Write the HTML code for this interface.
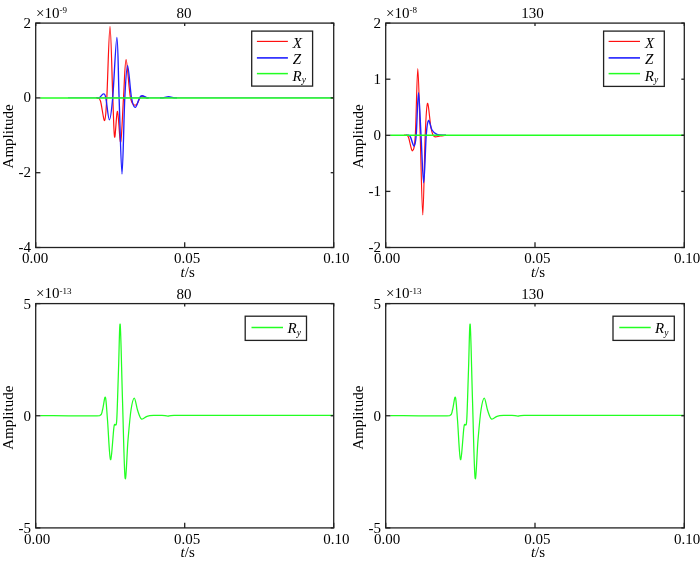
<!DOCTYPE html>
<html><head><meta charset="utf-8"><style>
html,body{margin:0;padding:0;background:#fff;width:700px;height:561px;overflow:hidden;}
svg{display:block;will-change:transform;}
</style></head><body>
<svg width="700" height="561" viewBox="0 0 700 561">
<rect width="700" height="561" fill="#fff"/>
<path d="M96.00,97.80 C96.25,97.80 96.75,97.27 97.50,97.80 C98.25,98.33 99.32,97.22 100.50,101.00 C101.68,104.78 103.55,121.03 104.60,120.50 C105.65,119.97 105.90,113.48 106.80,97.80 C107.70,82.12 109.00,26.40 110.00,26.40 C111.00,26.40 112.03,79.37 112.80,97.80 C113.57,116.23 113.82,134.72 114.60,137.00 C115.38,139.28 116.48,110.67 117.50,111.50 C118.52,112.33 119.70,144.28 120.70,142.00 C121.70,139.72 122.60,111.52 123.50,97.80 C124.40,84.08 124.93,59.70 126.10,59.70 C127.27,59.70 128.85,90.25 130.50,97.80 C132.15,105.35 134.25,105.23 136.00,105.00 C137.75,104.77 139.33,97.60 141.00,96.40 C142.67,95.20 144.83,97.57 146.00,97.80 C147.17,98.03 147.67,97.80 148.00,97.80" fill="none" stroke="#ff1010" stroke-width="1.20" stroke-linejoin="round"/>
<path d="M97.00,97.80 C97.38,97.80 98.22,98.45 99.30,97.80 C100.38,97.15 102.42,93.90 103.50,93.90 C104.58,93.90 104.82,93.47 105.80,97.80 C106.78,102.13 108.25,119.90 109.40,119.90 C110.55,119.90 111.45,111.55 112.70,97.80 C113.95,84.05 115.83,37.40 116.90,37.40 C117.97,37.40 118.25,75.03 119.10,97.80 C119.95,120.57 121.05,174.00 122.00,174.00 C122.95,174.00 123.87,115.85 124.80,97.80 C125.73,79.75 126.48,65.70 127.60,65.70 C128.72,65.70 130.22,90.85 131.50,97.80 C132.78,104.75 133.97,107.40 135.30,107.40 C136.63,107.40 138.37,99.75 139.50,97.80 C140.63,95.85 140.85,95.70 142.10,95.70 C143.35,95.70 145.85,97.45 147.00,97.80 C148.15,98.15 148.67,97.80 149.00,97.80" fill="none" stroke="#2020ff" stroke-width="1.35" stroke-linejoin="round"/>
<path d="M160.00,97.80 C160.50,97.80 161.57,98.00 163.00,97.80 C164.43,97.60 166.77,96.60 168.60,96.60 C170.43,96.60 172.60,97.60 174.00,97.80 C175.40,98.00 176.50,97.80 177.00,97.80" fill="none" stroke="#2020ff" stroke-width="1.35" stroke-linejoin="round"/>
<line x1="68" y1="97.70" x2="334" y2="97.70" stroke="#3050d0" stroke-width="1.0" stroke-opacity="0.7"/>
<path d="M40.30,98.00 C89.25,98.00 285.05,98.00 334.00,98.00" fill="none" stroke="#22ff22" stroke-width="1.30" stroke-linejoin="round"/>
<g stroke="#222222" stroke-width="1.30" fill="none"><line x1="35.70" y1="23.10" x2="40.40" y2="23.10"/><line x1="333.70" y1="23.10" x2="330.70" y2="23.10"/><line x1="35.70" y1="97.90" x2="40.40" y2="97.90"/><line x1="333.70" y1="97.90" x2="330.70" y2="97.90"/><line x1="35.70" y1="172.70" x2="40.40" y2="172.70"/><line x1="333.70" y1="172.70" x2="330.70" y2="172.70"/><line x1="35.70" y1="247.50" x2="40.40" y2="247.50"/><line x1="333.70" y1="247.50" x2="330.70" y2="247.50"/><line x1="35.70" y1="247.50" x2="35.70" y2="242.30"/><line x1="35.70" y1="23.10" x2="35.70" y2="25.90"/><line x1="184.70" y1="247.50" x2="184.70" y2="242.30"/><line x1="184.70" y1="23.10" x2="184.70" y2="25.90"/><line x1="333.70" y1="247.50" x2="333.70" y2="242.30"/><line x1="333.70" y1="23.10" x2="333.70" y2="25.90"/><rect x="35.70" y="23.10" width="298.00" height="224.40"/></g>
<g font-family='"Liberation Serif", serif' font-size="15" fill="#000"><text x="31.10" y="27.60" text-anchor="end">2</text><text x="31.10" y="102.40" text-anchor="end">0</text><text x="31.10" y="177.20" text-anchor="end">-2</text><text x="31.10" y="252.00" text-anchor="end">-4</text><text x="35.20" y="263.10" text-anchor="middle">0.00</text><text x="187.10" y="263.10" text-anchor="middle">0.05</text><text x="336.40" y="263.10" text-anchor="middle">0.10</text><text x="187.70" y="277.00" text-anchor="middle"><tspan font-style="italic">t</tspan>/s</text><text x="0" y="0" text-anchor="middle" transform="translate(13.40,136.30) rotate(-90)">Amplitude</text><text x="36.00" y="17.90">×10<tspan font-size="9" dy="-4.6">-9</tspan></text><text x="183.90" y="18.20" text-anchor="middle">80</text></g>
<rect x="251.70" y="31.10" width="60.90" height="55.00" fill="#fff" stroke="#222222" stroke-width="1.3"/><line x1="256.90" y1="41.40" x2="287.90" y2="41.40" stroke="#ff1010" stroke-width="1.15"/><text x="292.70" y="47.60" font-family='"Liberation Serif", serif' font-size="15" font-style="italic">X</text><line x1="256.90" y1="57.90" x2="287.90" y2="57.90" stroke="#2020ff" stroke-width="1.60"/><text x="292.70" y="64.10" font-family='"Liberation Serif", serif' font-size="15" font-style="italic">Z</text><line x1="256.90" y1="73.60" x2="287.90" y2="73.60" stroke="#22ff22" stroke-width="1.50"/><text x="292.50" y="80.60" font-family='"Liberation Serif", serif' font-size="15" font-style="italic">R<tspan font-size="9.5" dy="2.8">y</tspan></text>
<path d="M404.00,135.20 C404.43,135.20 405.83,134.82 406.60,135.20 C407.37,135.58 407.62,134.90 408.60,137.50 C409.58,140.10 411.38,151.18 412.50,150.80 C413.62,150.42 414.42,148.92 415.30,135.20 C416.18,121.48 416.98,68.50 417.80,68.50 C418.62,68.50 419.37,110.80 420.20,135.20 C421.03,159.60 421.97,214.90 422.80,214.90 C423.63,214.90 424.42,153.78 425.20,135.20 C425.98,116.62 426.53,104.60 427.50,103.40 C428.47,102.20 429.92,122.50 431.00,128.00 C432.08,133.50 432.50,135.07 434.00,136.40 C435.50,137.73 438.00,136.20 440.00,136.00 C442.00,135.80 445.00,135.33 446.00,135.20" fill="none" stroke="#ff1010" stroke-width="1.15" stroke-linejoin="round"/>
<path d="M406.00,135.20 C406.42,135.20 407.75,134.90 408.50,135.20 C409.25,135.50 409.57,135.20 410.50,137.00 C411.43,138.80 413.15,146.30 414.10,146.00 C415.05,145.70 415.47,144.07 416.20,135.20 C416.93,126.33 417.70,92.80 418.50,92.80 C419.30,92.80 420.13,120.18 421.00,135.20 C421.87,150.22 422.83,182.90 423.70,182.90 C424.57,182.90 425.40,145.60 426.20,135.20 C427.00,124.80 427.53,121.37 428.50,120.50 C429.47,119.63 430.58,127.67 432.00,130.00 C433.42,132.33 434.67,133.63 437.00,134.50 C439.33,135.37 444.50,135.08 446.00,135.20" fill="none" stroke="#2020ff" stroke-width="1.40" stroke-linejoin="round"/>
<path d="M390.30,135.20 C439.25,135.20 635.05,135.20 684.00,135.20" fill="none" stroke="#22ff22" stroke-width="1.40" stroke-linejoin="round"/>
<g stroke="#222222" stroke-width="1.30" fill="none"><line x1="385.70" y1="23.10" x2="390.40" y2="23.10"/><line x1="684.30" y1="23.10" x2="681.30" y2="23.10"/><line x1="385.70" y1="79.20" x2="390.40" y2="79.20"/><line x1="684.30" y1="79.20" x2="681.30" y2="79.20"/><line x1="385.70" y1="135.30" x2="390.40" y2="135.30"/><line x1="684.30" y1="135.30" x2="681.30" y2="135.30"/><line x1="385.70" y1="191.40" x2="390.40" y2="191.40"/><line x1="684.30" y1="191.40" x2="681.30" y2="191.40"/><line x1="385.70" y1="247.50" x2="390.40" y2="247.50"/><line x1="684.30" y1="247.50" x2="681.30" y2="247.50"/><line x1="385.70" y1="247.50" x2="385.70" y2="242.30"/><line x1="385.70" y1="23.10" x2="385.70" y2="25.90"/><line x1="535.00" y1="247.50" x2="535.00" y2="242.30"/><line x1="535.00" y1="23.10" x2="535.00" y2="25.90"/><line x1="684.30" y1="247.50" x2="684.30" y2="242.30"/><line x1="684.30" y1="23.10" x2="684.30" y2="25.90"/><rect x="385.70" y="23.10" width="298.60" height="224.40"/></g>
<g font-family='"Liberation Serif", serif' font-size="15" fill="#000"><text x="381.10" y="27.60" text-anchor="end">2</text><text x="381.10" y="83.70" text-anchor="end">1</text><text x="381.10" y="139.80" text-anchor="end">0</text><text x="381.10" y="195.90" text-anchor="end">-1</text><text x="381.10" y="252.00" text-anchor="end">-2</text><text x="387.20" y="263.10" text-anchor="middle">0.00</text><text x="537.40" y="263.10" text-anchor="middle">0.05</text><text x="687.00" y="263.10" text-anchor="middle">0.10</text><text x="538.00" y="277.00" text-anchor="middle"><tspan font-style="italic">t</tspan>/s</text><text x="0" y="0" text-anchor="middle" transform="translate(363.40,136.30) rotate(-90)">Amplitude</text><text x="386.00" y="17.90">×10<tspan font-size="9" dy="-4.6">-8</tspan></text><text x="532.50" y="18.20" text-anchor="middle">130</text></g>
<rect x="603.60" y="31.10" width="60.70" height="55.30" fill="#fff" stroke="#222222" stroke-width="1.3"/><line x1="608.60" y1="41.40" x2="640.00" y2="41.40" stroke="#ff1010" stroke-width="1.15"/><text x="645.00" y="47.60" font-family='"Liberation Serif", serif' font-size="15" font-style="italic">X</text><line x1="608.60" y1="57.90" x2="640.00" y2="57.90" stroke="#2020ff" stroke-width="1.60"/><text x="645.00" y="64.10" font-family='"Liberation Serif", serif' font-size="15" font-style="italic">Z</text><line x1="608.60" y1="73.60" x2="640.00" y2="73.60" stroke="#22ff22" stroke-width="1.50"/><text x="644.80" y="80.60" font-family='"Liberation Serif", serif' font-size="15" font-style="italic">R<tspan font-size="9.5" dy="2.8">y</tspan></text>
<path d="M40.30,415.60 C50.20,415.60 89.33,416.53 99.70,415.60 C102.50,414.67 101.55,413.07 102.50,410.00 C103.45,406.93 104.57,395.53 105.40,397.20 C106.23,398.87 106.65,409.58 107.50,420.00 C108.35,430.42 109.43,458.45 110.50,459.70 C111.57,460.95 113.10,433.32 113.90,427.50 C114.70,421.68 114.82,426.22 115.30,424.80 C115.78,423.38 116.27,428.13 116.80,419.00 C117.33,409.87 117.93,385.75 118.50,370.00 C119.07,354.25 119.53,319.50 120.20,324.50 C120.87,329.50 121.68,374.42 122.50,400.00 C123.32,425.58 124.18,471.33 125.10,478.00 C126.02,484.67 127.02,451.33 128.00,440.00 C128.98,428.67 129.95,417.00 131.00,410.00 C132.05,403.00 133.22,398.00 134.30,398.00 C135.38,398.00 136.32,406.50 137.50,410.00 C138.68,413.50 139.82,417.95 141.40,419.00 C142.98,420.05 144.97,416.90 147.00,416.30 C149.03,415.70 151.10,415.55 153.60,415.40 C156.10,415.25 159.62,415.30 162.00,415.40 C164.38,415.50 165.90,416.00 167.90,416.00 C169.90,416.00 167.90,415.50 174.00,415.40 C201.68,415.30 307.33,415.40 334.00,415.40" fill="none" stroke="#22ff22" stroke-width="1.25" stroke-linejoin="round"/>
<g stroke="#222222" stroke-width="1.30" fill="none"><line x1="35.70" y1="303.60" x2="40.40" y2="303.60"/><line x1="333.70" y1="303.60" x2="330.70" y2="303.60"/><line x1="35.70" y1="415.75" x2="40.40" y2="415.75"/><line x1="333.70" y1="415.75" x2="330.70" y2="415.75"/><line x1="35.70" y1="527.90" x2="40.40" y2="527.90"/><line x1="333.70" y1="527.90" x2="330.70" y2="527.90"/><line x1="35.70" y1="527.90" x2="35.70" y2="522.70"/><line x1="35.70" y1="303.60" x2="35.70" y2="306.40"/><line x1="184.70" y1="527.90" x2="184.70" y2="522.70"/><line x1="184.70" y1="303.60" x2="184.70" y2="306.40"/><line x1="333.70" y1="527.90" x2="333.70" y2="522.70"/><line x1="333.70" y1="303.60" x2="333.70" y2="306.40"/><rect x="35.70" y="303.60" width="298.00" height="224.30"/></g>
<g font-family='"Liberation Serif", serif' font-size="15" fill="#000"><text x="31.10" y="308.90" text-anchor="end">5</text><text x="31.10" y="421.05" text-anchor="end">0</text><text x="31.10" y="533.20" text-anchor="end">-5</text><text x="37.20" y="543.50" text-anchor="middle">0.00</text><text x="187.10" y="543.50" text-anchor="middle">0.05</text><text x="336.40" y="543.50" text-anchor="middle">0.10</text><text x="187.70" y="557.40" text-anchor="middle"><tspan font-style="italic">t</tspan>/s</text><text x="0" y="0" text-anchor="middle" transform="translate(13.40,417.75) rotate(-90)">Amplitude</text><text x="36.00" y="298.40">×10<tspan font-size="9" dy="-4.6">-13</tspan></text><text x="183.90" y="298.70" text-anchor="middle">80</text></g>
<rect x="245.20" y="316.20" width="61.30" height="24.20" fill="#fff" stroke="#222222" stroke-width="1.3"/><line x1="251.50" y1="327.50" x2="283.00" y2="327.50" stroke="#22ff22" stroke-width="1.50"/><text x="287.50" y="333.30" font-family='"Liberation Serif", serif' font-size="15" font-style="italic">R<tspan font-size="9.5" dy="2.8">y</tspan></text>
<g transform="translate(350,0)"><path d="M40.30,415.60 C50.20,415.60 89.33,416.53 99.70,415.60 C102.50,414.67 101.55,413.07 102.50,410.00 C103.45,406.93 104.57,395.53 105.40,397.20 C106.23,398.87 106.65,409.58 107.50,420.00 C108.35,430.42 109.43,458.45 110.50,459.70 C111.57,460.95 113.10,433.32 113.90,427.50 C114.70,421.68 114.82,426.22 115.30,424.80 C115.78,423.38 116.27,428.13 116.80,419.00 C117.33,409.87 117.93,385.75 118.50,370.00 C119.07,354.25 119.53,319.50 120.20,324.50 C120.87,329.50 121.68,374.42 122.50,400.00 C123.32,425.58 124.18,471.33 125.10,478.00 C126.02,484.67 127.02,451.33 128.00,440.00 C128.98,428.67 129.95,417.00 131.00,410.00 C132.05,403.00 133.22,398.00 134.30,398.00 C135.38,398.00 136.32,406.50 137.50,410.00 C138.68,413.50 139.82,417.95 141.40,419.00 C142.98,420.05 144.97,416.90 147.00,416.30 C149.03,415.70 151.10,415.55 153.60,415.40 C156.10,415.25 159.62,415.30 162.00,415.40 C164.38,415.50 165.90,416.00 167.90,416.00 C169.90,416.00 167.90,415.50 174.00,415.40 C201.68,415.30 307.33,415.40 334.00,415.40" fill="none" stroke="#22ff22" stroke-width="1.25" stroke-linejoin="round"/></g>
<g stroke="#222222" stroke-width="1.30" fill="none"><line x1="385.70" y1="303.60" x2="390.40" y2="303.60"/><line x1="684.30" y1="303.60" x2="681.30" y2="303.60"/><line x1="385.70" y1="415.75" x2="390.40" y2="415.75"/><line x1="684.30" y1="415.75" x2="681.30" y2="415.75"/><line x1="385.70" y1="527.90" x2="390.40" y2="527.90"/><line x1="684.30" y1="527.90" x2="681.30" y2="527.90"/><line x1="385.70" y1="527.90" x2="385.70" y2="522.70"/><line x1="385.70" y1="303.60" x2="385.70" y2="306.40"/><line x1="535.00" y1="527.90" x2="535.00" y2="522.70"/><line x1="535.00" y1="303.60" x2="535.00" y2="306.40"/><line x1="684.30" y1="527.90" x2="684.30" y2="522.70"/><line x1="684.30" y1="303.60" x2="684.30" y2="306.40"/><rect x="385.70" y="303.60" width="298.60" height="224.30"/></g>
<g font-family='"Liberation Serif", serif' font-size="15" fill="#000"><text x="381.10" y="308.90" text-anchor="end">5</text><text x="381.10" y="421.05" text-anchor="end">0</text><text x="381.10" y="533.20" text-anchor="end">-5</text><text x="387.20" y="543.50" text-anchor="middle">0.00</text><text x="537.40" y="543.50" text-anchor="middle">0.05</text><text x="687.00" y="543.50" text-anchor="middle">0.10</text><text x="538.00" y="557.40" text-anchor="middle"><tspan font-style="italic">t</tspan>/s</text><text x="0" y="0" text-anchor="middle" transform="translate(363.40,417.75) rotate(-90)">Amplitude</text><text x="386.00" y="298.40">×10<tspan font-size="9" dy="-4.6">-13</tspan></text><text x="532.50" y="298.70" text-anchor="middle">130</text></g>
<rect x="613.00" y="316.20" width="61.30" height="24.20" fill="#fff" stroke="#222222" stroke-width="1.3"/><line x1="619.30" y1="327.50" x2="650.70" y2="327.50" stroke="#22ff22" stroke-width="1.50"/><text x="655.10" y="333.30" font-family='"Liberation Serif", serif' font-size="15" font-style="italic">R<tspan font-size="9.5" dy="2.8">y</tspan></text>
</svg>
</body></html>
